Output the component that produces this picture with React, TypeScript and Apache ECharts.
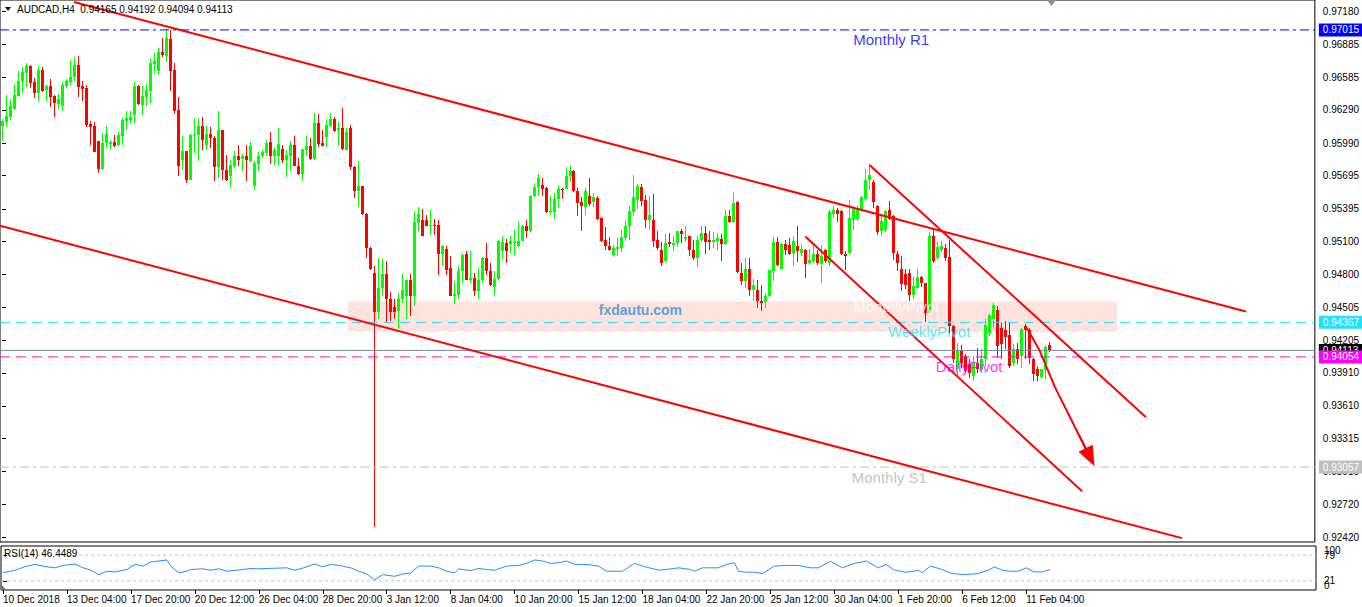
import React, { useEffect, useRef } from 'react';
import * as echarts from 'echarts';

// ---------- data ----------
const symbolName = 'AUDCAD,H4';
const timeLabels = ['10 Dec 2018', '13 Dec 04:00', '17 Dec 20:00', '20 Dec 12:00', '26 Dec 04:00', '28 Dec 20:00', '3 Jan 12:00', '8 Jan 04:00', '10 Jan 20:00', '15 Jan 12:00', '18 Jan 04:00', '22 Jan 20:00', '25 Jan 12:00', '30 Jan 04:00', '1 Feb 20:00', '6 Feb 12:00', '11 Feb 04:00'];
const barsPerLabel = 16;
const totalSlots = 329;

const priceTicks = [0.9718, 0.96885, 0.96585, 0.9629, 0.9599, 0.95695, 0.95395, 0.951, 0.948, 0.94505, 0.94205, 0.9391, 0.9361, 0.93315, 0.93015, 0.9272, 0.9242];
const priceMin = 0.92378;
const priceMax = 0.97286;

// open, high, low, close (H4 bars)
const ohlc: number[][] = [
  [0.96147, 0.96207, 0.96005, 0.96186], [0.96177, 0.96427, 0.96135, 0.96237], [0.96231, 0.96388, 0.96201, 0.96328], [0.96297, 0.96526, 0.96291, 0.96427],
  [0.96418, 0.96647, 0.96406, 0.96554], [0.96548, 0.96683, 0.96448, 0.96638], [0.96629, 0.96713, 0.96502, 0.96689], [0.96689, 0.96698, 0.96487, 0.96532],
  [0.96539, 0.96578, 0.96403, 0.96442], [0.96448, 0.96689, 0.96367, 0.96653], [0.96653, 0.96683, 0.96457, 0.96466], [0.96472, 0.96517, 0.96373, 0.96508],
  [0.96508, 0.96569, 0.96316, 0.96412], [0.96418, 0.96427, 0.96231, 0.96352], [0.96346, 0.96436, 0.96297, 0.96388], [0.96328, 0.96545, 0.96285, 0.96517],
  [0.96508, 0.96569, 0.96487, 0.96548], [0.96539, 0.96743, 0.96517, 0.96593], [0.96587, 0.96768, 0.96548, 0.96698], [0.96698, 0.96783, 0.96406, 0.96502],
  [0.96508, 0.96557, 0.96373, 0.96484], [0.96487, 0.96517, 0.96135, 0.96156], [0.96165, 0.96186, 0.95975, 0.96135], [0.96141, 0.96183, 0.95906, 0.9591],
  [0.96005, 0.9601, 0.95719, 0.95758], [0.95755, 0.96081, 0.95749, 0.9599], [0.9599, 0.96141, 0.95945, 0.96075], [0.95981, 0.9602, 0.9593, 0.95996],
  [0.95996, 0.96066, 0.95951, 0.95966], [0.95969, 0.96087, 0.9596, 0.96066], [0.96056, 0.96216, 0.95975, 0.96195], [0.96189, 0.96285, 0.96105, 0.96213],
  [0.96201, 0.96285, 0.96165, 0.96222], [0.96246, 0.96539, 0.96171, 0.96508], [0.96508, 0.96515, 0.96337, 0.9634], [0.96337, 0.96508, 0.96246, 0.96418],
  [0.96406, 0.96526, 0.96322, 0.96472], [0.96466, 0.96749, 0.96352, 0.96719], [0.96707, 0.9681, 0.96629, 0.96737], [0.96647, 0.96849, 0.96608, 0.96819],
  [0.96819, 0.96939, 0.96774, 0.96789], [0.9678, 0.97021, 0.96728, 0.96939], [0.96933, 0.97015, 0.96466, 0.96647], [0.96653, 0.96719, 0.96252, 0.96285],
  [0.96291, 0.96406, 0.95695, 0.95779], [0.95833, 0.96056, 0.95749, 0.95915], [0.95915, 0.9592, 0.95629, 0.95653], [0.95653, 0.9607, 0.95653, 0.96066],
  [0.96056, 0.96216, 0.959, 0.96066], [0.96066, 0.96207, 0.95825, 0.96147], [0.96147, 0.96231, 0.9593, 0.96014], [0.95975, 0.96141, 0.9593, 0.96075],
  [0.96075, 0.96135, 0.95945, 0.96035], [0.96035, 0.9605, 0.95644, 0.95773], [0.95773, 0.96285, 0.95674, 0.96111], [0.96105, 0.96111, 0.95659, 0.95743],
  [0.95749, 0.95885, 0.95644, 0.95659], [0.95689, 0.95833, 0.95583, 0.95794], [0.95785, 0.95915, 0.95764, 0.95876], [0.95876, 0.95975, 0.95779, 0.9584],
  [0.95846, 0.95894, 0.95734, 0.9587], [0.9587, 0.95975, 0.95644, 0.95833], [0.95825, 0.95996, 0.9582, 0.95966], [0.95598, 0.95825, 0.95562, 0.95809],
  [0.95803, 0.95906, 0.95734, 0.9587], [0.9587, 0.9593, 0.95855, 0.95906], [0.959, 0.9602, 0.9587, 0.9599], [0.95996, 0.96095, 0.95803, 0.95869],
  [0.95869, 0.95954, 0.95794, 0.95924], [0.95875, 0.96125, 0.95785, 0.95984], [0.95936, 0.95975, 0.95809, 0.95839], [0.95839, 0.9593, 0.9568, 0.95884],
  [0.95875, 0.96005, 0.95734, 0.95975], [0.95975, 0.9605, 0.95779, 0.95785], [0.95785, 0.95854, 0.95704, 0.95713], [0.95713, 0.9594, 0.95643, 0.95936],
  [0.9593, 0.9605, 0.95869, 0.9596], [0.9596, 0.96035, 0.95839, 0.95842], [0.95842, 0.96267, 0.95839, 0.96171], [0.96171, 0.96255, 0.95954, 0.95984],
  [0.9599, 0.9611, 0.9596, 0.95966], [0.96044, 0.96207, 0.95954, 0.96156], [0.96147, 0.96267, 0.96135, 0.96207], [0.96207, 0.96231, 0.96095, 0.96104],
  [0.9611, 0.96177, 0.95975, 0.96125], [0.96125, 0.96306, 0.9593, 0.95936], [0.9593, 0.96125, 0.95928, 0.96095], [0.96125, 0.96156, 0.95749, 0.95773],
  [0.95773, 0.95779, 0.95493, 0.95553], [0.95553, 0.95824, 0.95412, 0.95598], [0.95598, 0.95604, 0.95342, 0.95345], [0.95351, 0.95357, 0.9495, 0.95041],
  [0.95041, 0.95045, 0.94845, 0.94848], [0.94815, 0.94875, 0.92513, 0.94459], [0.94459, 0.9495, 0.94393, 0.94679], [0.94679, 0.94941, 0.94604, 0.94809],
  [0.94809, 0.9492, 0.94363, 0.9458], [0.9458, 0.9464, 0.94378, 0.94459], [0.94508, 0.94574, 0.94393, 0.94459], [0.94468, 0.94634, 0.94309, 0.94574],
  [0.94574, 0.94809, 0.94544, 0.94664], [0.9461, 0.94755, 0.94393, 0.94749], [0.94755, 0.94809, 0.94429, 0.94604], [0.94604, 0.95372, 0.94514, 0.95273],
  [0.95267, 0.95412, 0.95191, 0.95351], [0.95291, 0.95393, 0.95148, 0.95152], [0.95297, 0.95342, 0.95237, 0.9524], [0.9524, 0.95387, 0.95161, 0.95252],
  [0.95252, 0.95303, 0.95161, 0.95237], [0.95252, 0.95297, 0.948, 0.9499], [0.9499, 0.95071, 0.94881, 0.95062], [0.95032, 0.95056, 0.948, 0.94845],
  [0.9486, 0.94965, 0.94604, 0.9461], [0.9461, 0.9474, 0.94529, 0.94628], [0.94619, 0.94881, 0.9458, 0.9483], [0.9483, 0.94996, 0.94724, 0.94981],
  [0.9499, 0.95011, 0.94749, 0.94755], [0.94755, 0.95011, 0.94724, 0.94767], [0.9477, 0.94815, 0.94604, 0.94649], [0.94649, 0.9486, 0.94574, 0.94749],
  [0.94749, 0.94955, 0.94724, 0.9495], [0.9495, 0.95086, 0.948, 0.9483], [0.9483, 0.94905, 0.94694, 0.94709], [0.94688, 0.9483, 0.94604, 0.94761],
  [0.94761, 0.95116, 0.94755, 0.95101], [0.95011, 0.95146, 0.94941, 0.95092], [0.95086, 0.95122, 0.94905, 0.95011], [0.9508, 0.95146, 0.94996, 0.95101],
  [0.95086, 0.95207, 0.94981, 0.95092], [0.95056, 0.95282, 0.9505, 0.95101], [0.95101, 0.95252, 0.95101, 0.95243], [0.95243, 0.95297, 0.95131, 0.95191],
  [0.95192, 0.95524, 0.95183, 0.95509], [0.95509, 0.95623, 0.95503, 0.95593], [0.95593, 0.95713, 0.95515, 0.95674], [0.95614, 0.95674, 0.95515, 0.95575],
  [0.95584, 0.9559, 0.95358, 0.95364], [0.95364, 0.95515, 0.95343, 0.95373], [0.95364, 0.95539, 0.95304, 0.95484], [0.95484, 0.95614, 0.95403, 0.95575],
  [0.95578, 0.95584, 0.95484, 0.95569], [0.95575, 0.95774, 0.95575, 0.95695], [0.95689, 0.9578, 0.95635, 0.95735], [0.95741, 0.9575, 0.95545, 0.95554],
  [0.95554, 0.95584, 0.95328, 0.95448], [0.95454, 0.95503, 0.95192, 0.95418], [0.95412, 0.95584, 0.95343, 0.95554], [0.95515, 0.95674, 0.95418, 0.95442],
  [0.95454, 0.95539, 0.95412, 0.95503], [0.95494, 0.95509, 0.95298, 0.95304], [0.95313, 0.95322, 0.95093, 0.95102], [0.95111, 0.95231, 0.95026, 0.95057],
  [0.95057, 0.95141, 0.95011, 0.9502], [0.94981, 0.95063, 0.9496, 0.95042], [0.95033, 0.95132, 0.94972, 0.95051], [0.95042, 0.95207, 0.95002, 0.95141],
  [0.95132, 0.95283, 0.95102, 0.95243], [0.95243, 0.95418, 0.95117, 0.95373], [0.95364, 0.95704, 0.95334, 0.95503], [0.95472, 0.95623, 0.95394, 0.95599],
  [0.95593, 0.95623, 0.95424, 0.95463], [0.95478, 0.95524, 0.95222, 0.95292], [0.95292, 0.95515, 0.95207, 0.95343], [0.95292, 0.95533, 0.95051, 0.95102],
  [0.95117, 0.95192, 0.95026, 0.95042], [0.9502, 0.95093, 0.94876, 0.94906], [0.94921, 0.95171, 0.949, 0.95087], [0.95093, 0.95177, 0.95051, 0.95081],
  [0.95063, 0.95153, 0.95011, 0.95087], [0.95087, 0.95195, 0.95051, 0.95192], [0.95192, 0.95213, 0.95087, 0.95171], [0.95126, 0.95237, 0.95093, 0.95138],
  [0.95147, 0.9515, 0.94972, 0.9502], [0.95026, 0.95117, 0.9493, 0.94951], [0.94951, 0.95153, 0.9487, 0.95117], [0.95111, 0.95243, 0.95093, 0.95177],
  [0.95177, 0.95237, 0.9499, 0.95096], [0.95117, 0.95192, 0.95026, 0.95093], [0.95093, 0.95183, 0.95042, 0.95111], [0.95105, 0.95177, 0.95026, 0.95129],
  [0.95123, 0.95171, 0.94921, 0.95072], [0.95072, 0.95388, 0.95063, 0.95328], [0.95334, 0.95388, 0.95268, 0.95274], [0.95274, 0.95539, 0.95268, 0.95448],
  [0.95454, 0.95463, 0.94816, 0.94822], [0.94816, 0.949, 0.94701, 0.9474], [0.9474, 0.94951, 0.9468, 0.94852], [0.94852, 0.94951, 0.94605, 0.94659],
  [0.94659, 0.94761, 0.94559, 0.94701], [0.94659, 0.94749, 0.94499, 0.94559], [0.94559, 0.94701, 0.94469, 0.94544], [0.9455, 0.94629, 0.94499, 0.94605],
  [0.94605, 0.9484, 0.94599, 0.9484], [0.94831, 0.95141, 0.9474, 0.95093], [0.95093, 0.95141, 0.94876, 0.94882], [0.94852, 0.95087, 0.94846, 0.95081],
  [0.95072, 0.95117, 0.94981, 0.9502], [0.95063, 0.95132, 0.94981, 0.9499], [0.94996, 0.95147, 0.94876, 0.95102], [0.95057, 0.95243, 0.94912, 0.95011],
  [0.94996, 0.95063, 0.94966, 0.95033], [0.95026, 0.95033, 0.9477, 0.94891], [0.949, 0.95033, 0.94891, 0.9493], [0.94921, 0.95072, 0.94906, 0.9499],
  [0.9499, 0.9502, 0.94882, 0.949], [0.94891, 0.95063, 0.94725, 0.94966], [0.95026, 0.95033, 0.94906, 0.94921], [0.94906, 0.95388, 0.94876, 0.95364],
  [0.95352, 0.95418, 0.95313, 0.95382], [0.95388, 0.95403, 0.95274, 0.95352], [0.95373, 0.9538, 0.94981, 0.94985], [0.9499, 0.95011, 0.9484, 0.94972],
  [0.94996, 0.95478, 0.94981, 0.95313], [0.95298, 0.95418, 0.95207, 0.95394], [0.95304, 0.95418, 0.95283, 0.95394], [0.95388, 0.95515, 0.95364, 0.95503],
  [0.95484, 0.95756, 0.95463, 0.95653], [0.95653, 0.95795, 0.95569, 0.957], [0.9564, 0.9566, 0.95403, 0.95454], [0.95418, 0.95433, 0.95162, 0.95183],
  [0.95192, 0.95334, 0.95153, 0.95283], [0.95207, 0.95388, 0.95183, 0.95373], [0.95382, 0.95463, 0.95298, 0.953], [0.95334, 0.95343, 0.94936, 0.94996],
  [0.9499, 0.95011, 0.94831, 0.94906], [0.94852, 0.94966, 0.9465, 0.9471], [0.94801, 0.94852, 0.94665, 0.94701], [0.9481, 0.94846, 0.94559, 0.94611],
  [0.94611, 0.94785, 0.94581, 0.94695], [0.9468, 0.94846, 0.94665, 0.94779], [0.94779, 0.94791, 0.94689, 0.94719], [0.94719, 0.94725, 0.9437, 0.94454],
  [0.9446, 0.95183, 0.94454, 0.95153], [0.95153, 0.95222, 0.949, 0.94921], [0.94951, 0.95093, 0.94936, 0.95051], [0.95026, 0.95102, 0.95002, 0.95057],
  [0.95042, 0.95072, 0.94921, 0.94951], [0.9496, 0.95117, 0.94273, 0.94333], [0.94333, 0.9434, 0.94002, 0.94032], [0.93948, 0.94183, 0.93882, 0.94117],
  [0.94117, 0.94159, 0.93957, 0.94002], [0.94062, 0.94077, 0.93912, 0.93927], [0.93987, 0.94032, 0.93866, 0.93912], [0.93882, 0.94062, 0.93836, 0.93996],
  [0.93996, 0.94138, 0.93912, 0.93942], [0.93936, 0.94123, 0.93912, 0.94038], [0.94038, 0.94394, 0.93972, 0.9434], [0.94273, 0.94439, 0.94243, 0.9443],
  [0.94394, 0.94538, 0.94303, 0.9452], [0.94478, 0.94514, 0.94047, 0.94153], [0.94318, 0.94364, 0.94032, 0.94168], [0.94297, 0.94379, 0.94123, 0.94237],
  [0.94249, 0.94358, 0.93957, 0.93972], [0.94002, 0.94168, 0.93972, 0.94123], [0.94123, 0.94183, 0.93987, 0.94038], [0.94062, 0.94318, 0.93957, 0.94309],
  [0.94333, 0.94349, 0.94038, 0.94297], [0.94297, 0.94318, 0.93987, 0.94047], [0.94032, 0.94047, 0.93836, 0.93897], [0.93948, 0.93972, 0.93836, 0.93882],
  [0.93876, 0.93948, 0.93851, 0.93948], [0.93936, 0.9416, 0.93851, 0.94147], [0.94165, 0.94192, 0.94094, 0.94113],
];

// RSI(14) read at turning points: [bar index, value]
const rsiPoints: number[][] = [
  [0, 38.8], [3, 45.0], [6, 54.3], [8, 58.2], [11, 52.7], [13, 50.4], [15, 55.8], [18, 59.0], [20, 50.4], [22, 45.0], [24, 34.9], [26, 42.7], [28, 41.1],
  [31, 46.6], [33, 58.2], [35, 54.3], [37, 63.6], [41, 68.3], [42, 54.3], [44, 38.8], [46, 42.7], [47, 46.6], [50, 48.1], [52, 45.0], [54, 48.1], [56, 42.7],
  [60, 46.6], [62, 48.9], [64, 48.1], [66, 48.9], [69, 49.7], [71, 50.4], [73, 45.0], [75, 49.7], [78, 59.0], [80, 52.7], [82, 58.2], [84, 55.8], [87, 50.4],
  [89, 42.7], [91, 36.5], [93, 23.3], [95, 34.9], [98, 31.1], [100, 36.5], [102, 38.8], [104, 54.3], [107, 54.3], [109, 50.4], [111, 42.7], [113, 38.8],
  [114, 48.1], [117, 44.2], [119, 48.9], [121, 46.6], [123, 45.0], [126, 54.3], [129, 55.8], [131, 60.5], [133, 68.3], [135, 65.9], [137, 60.5], [139, 62.1],
  [141, 65.9], [143, 58.2], [146, 58.2], [149, 54.3], [151, 42.7], [155, 42.7], [158, 60.5], [160, 54.3], [164, 45.0], [166, 46.6], [169, 50.4], [172, 46.6],
  [173, 42.7], [175, 50.4], [179, 50.4], [181, 58.2], [183, 62.1], [184, 42.7], [186, 40.4], [188, 40.4], [190, 37.3], [193, 54.3], [196, 55.8], [199, 55.8],
  [202, 50.4], [204, 50.4], [207, 65.2], [210, 50.4], [213, 60.5], [216, 65.9], [219, 50.4], [221, 58.2], [223, 45.0], [226, 40.4], [228, 42.7], [229, 45.0],
  [230, 38.8], [232, 54.3], [235, 46.6], [237, 38.8], [240, 34.9], [244, 37.3], [247, 46.6], [248, 52.7], [250, 45.0], [252, 42.7], [254, 42.7], [256, 50.4],
  [258, 41.1], [260, 41.1], [262, 46.4489],
];
const rsiLevels = [79, 21];
const rsiLevelTicks = [79, 21];
const rsiRangeTicks = [100, 0];

// horizontal pivot levels
const levelNames = ['Monthly R1', 'WeeklyPivot', 'Bid', 'DailyPivot', 'Monthly S1'];
const levelValues = [0.97015, 0.94367, 0.94113, 0.94054, 0.93057];

// Monthly pivot zone (bar index range, price range)
const zoneBars = [86.5, 279];
const zonePrices = [0.94556, 0.94285];

// hand-drawn trend lines: [bar index, price] pairs
const trendLines: number[][][] = [
  [[18, 0.97268], [311.25, 0.94466]],
  [[-0.5, 0.95243], [295.25, 0.92413]],
  [[201, 0.95144], [270.25, 0.92838]],
  [[217, 0.95794], [286.25, 0.93507]],
];
const arrowPath: number[][] = [[256.5, 0.94312], [259.5, 0.94122], [263.5, 0.93778], [272.25, 0.93146]];
const arrowHeadFrom = [269.5, 0.93345];

// text annotations: [bar index, price]
const noteTexts = ['Monthly R1', 'MonthlyPivot', 'WeeklyPivot', 'DailyPivot', 'Monthly S1', 'fxdautu.com'];
const notePoints: number[][] = [[222.5, 0.96924], [223.75, 0.94511], [232, 0.94285], [242, 0.93969], [222, 0.92965], [159.75, 0.94475]];

// ---------- styles ----------
const FONT = '"Liberation Sans", Arial, sans-serif';
const UP = '#00ff00';
const DOWN = '#ff0000';
const levelStyles = [
  { color: '#0000ff', dash: [9, 4, 3, 4], tag: '#0000ff' },
  { color: '#1ee3ff', dash: [10, 6], tag: '#1ee3ff' },
  { color: '#778899', dash: 'solid', tag: '#000000' },
  { color: '#ff00ff', dash: [10, 6], tag: '#ff00ff' },
  { color: '#c0c0c0', dash: [9, 4, 3, 4], tag: '#c0c0c0' },
];
const noteStyles = [
  { color: '#0000ff', size: 15, weight: 'normal' },
  { color: '#ffffff', size: 15, weight: 'normal' },
  { color: '#1ee3ff', size: 15, weight: 'normal' },
  { color: '#ff00ff', size: 15, weight: 'normal' },
  { color: '#b4b4b4', size: 15, weight: 'normal' },
  { color: '#2b8fd6', size: 14, weight: 'bold' },
];

export default function App() {
  const ref = useRef<HTMLDivElement>(null);

  useEffect(() => {
    document.body.style.margin = '0';
    const chart = echarts.init(ref.current as HTMLDivElement, undefined, { renderer: 'svg' });

    const cats: string[] = [];
    for (let i = 0; i < totalSlots; i++) {
      const k = i / barsPerLabel;
      cats.push(i % barsPerLabel === 0 && k < timeLabels.length ? timeLabels[k] : '');
    }
    const showLabel = (i: number) => i % barsPerLabel === 0 && i / barsPerLabel < timeLabels.length;
    const last = ohlc[ohlc.length - 1];
    const rsiLast = rsiPoints[rsiPoints.length - 1][1];
    const xEnd = totalSlots - 0.5;

    const series: any[] = [];

    // pink zone
    series.push({
      type: 'line', xAxisIndex: 1, yAxisIndex: 0, data: [], z: 1, silent: true,
      markArea: {
        silent: true,
        itemStyle: { color: '#ffe3df' },
        data: [[{ coord: [zoneBars[0], zonePrices[0]] }, { coord: [zoneBars[1], zonePrices[1]] }]],
      },
    });

    // candles (custom drawn for crisp MT4 look)
    series.push({
      type: 'custom', xAxisIndex: 1, yAxisIndex: 0, z: 3, silent: true,
      data: ohlc.map((d, i) => [i, d[0], d[1], d[2], d[3]]),
      encode: { x: 0, y: [1, 2, 3, 4] },
      renderItem: (params: any, api: any) => {
        const i = api.value(0);
        const o = api.value(1), h = api.value(2), l = api.value(3), c = api.value(4);
        const pO = api.coord([i, o]);
        const pC = api.coord([i, c]);
        const pH = api.coord([i, h]);
        const pL = api.coord([i, l]);
        const cx = Math.round(pO[0]);
        const color = c >= o ? UP : DOWN;
        const top = Math.round(Math.min(pO[1], pC[1]));
        const bot = Math.max(Math.round(Math.max(pO[1], pC[1])), top + 1);
        const wt = Math.round(pH[1]);
        const wb = Math.max(Math.round(pL[1]), wt + 1);
        return {
          type: 'group',
          children: [
            { type: 'rect', shape: { x: cx, y: wt, width: 1, height: wb - wt }, style: { fill: color } },
            { type: 'rect', shape: { x: cx - 1, y: top, width: 3, height: bot - top }, style: { fill: color } },
          ],
        };
      },
    });

    // level lines with price tags
    levelValues.forEach((v, i) => {
      series.push({
        type: 'line', xAxisIndex: 1, yAxisIndex: 0, z: 4, silent: true, name: levelNames[i],
        data: [[-0.5, v], [xEnd, v]],
        showSymbol: false, symbol: 'none',
        lineStyle: { color: levelStyles[i].color, type: levelStyles[i].dash as any, width: 1 },
        endLabel: {
          show: true, distance: 4, formatter: () => v.toFixed(5),
          color: '#ffffff', backgroundColor: levelStyles[i].tag, padding: [2, 6, 1, 4],
          fontSize: 10, fontFamily: FONT,
        },
      });
    });

    // trend lines
    trendLines.forEach((ln) => {
      series.push({
        type: 'line', xAxisIndex: 1, yAxisIndex: 0, data: ln, z: 5, silent: true,
        showSymbol: false, symbol: 'none', lineStyle: { color: '#ff0000', width: 2 },
      });
    });

    // arrow
    series.push({
      type: 'line', xAxisIndex: 1, yAxisIndex: 0, data: arrowPath, z: 5, silent: true,
      showSymbol: false, symbol: 'none', lineStyle: { color: '#ff0000', width: 2 },
      markLine: {
        silent: true, symbol: ['none', 'triangle'], symbolSize: [16, 20],
        lineStyle: { color: '#ff0000', width: 2, type: 'solid' },
        label: { show: false },
        data: [[{ coord: arrowHeadFrom }, { coord: arrowPath[arrowPath.length - 1] }]],
      },
    });

    // annotations
    series.push({
      type: 'scatter', xAxisIndex: 1, yAxisIndex: 0, z: 6, silent: true, symbolSize: 0,
      data: notePoints.map((p, i) => ({
        value: p, name: noteTexts[i],
        label: {
          show: true, position: 'inside', formatter: noteTexts[i],
          color: noteStyles[i].color, fontSize: noteStyles[i].size, fontWeight: noteStyles[i].weight,
          fontFamily: FONT,
        },
      })),
    });

    // RSI levels
    rsiLevels.forEach((v) => {
      series.push({
        type: 'line', xAxisIndex: 3, yAxisIndex: 1, data: [[-0.5, v], [xEnd, v]], z: 3, silent: true,
        showSymbol: false, symbol: 'none', lineStyle: { color: '#c0c0c0', type: [3, 3], width: 1 },
      });
    });
    // RSI line
    series.push({
      type: 'line', xAxisIndex: 3, yAxisIndex: 1, data: rsiPoints, z: 4, silent: true,
      showSymbol: false, symbol: 'none', lineStyle: { color: '#1e90ff', width: 1 },
    });

    const option: any = {
      animation: false,
      backgroundColor: '#ffffff',
      grid: [
        { left: 0, top: 0, width: 1316, height: 542, show: true, borderColor: '#000', borderWidth: 1 },
        { left: 0, top: 546, width: 1316, height: 44, show: true, borderColor: '#000', borderWidth: 1 },
      ],
      xAxis: [
        { type: 'category', gridIndex: 0, data: cats, boundaryGap: true, show: false },
        { type: 'value', gridIndex: 0, min: -0.5, max: xEnd, show: false },
        {
          type: 'category', gridIndex: 1, data: cats, boundaryGap: true,
          axisLine: { show: false }, splitLine: { show: false },
          axisTick: { show: true, alignWithLabel: true, interval: showLabel, length: 4, lineStyle: { color: '#000' } },
          axisLabel: { interval: showLabel, align: 'left', margin: 4, fontSize: 10, color: '#000', fontFamily: FONT },
        },
        { type: 'value', gridIndex: 1, min: -0.5, max: xEnd, show: false },
      ],
      yAxis: [
        {
          type: 'value', gridIndex: 0, position: 'right', min: priceMin, max: priceMax,
          splitLine: { show: false }, axisLine: { show: false },
          axisTick: { show: true, customValues: priceTicks, length: 4, lineStyle: { color: '#000' } },
          axisLabel: { customValues: priceTicks, formatter: (v: number) => v.toFixed(5), margin: 8, fontSize: 10, color: '#000', fontFamily: FONT },
        },
        {
          type: 'value', gridIndex: 1, position: 'right', min: 0, max: 100,
          splitLine: { show: false }, axisLine: { show: false },
          axisTick: { show: true, customValues: rsiLevelTicks, length: 4, lineStyle: { color: '#000' } },
          axisLabel: { customValues: rsiLevelTicks, margin: 8, fontSize: 10, color: '#000', fontFamily: FONT },
        },
        {
          type: 'value', gridIndex: 1, position: 'right', min: -12, max: 112,
          splitLine: { show: false }, axisLine: { show: false }, axisTick: { show: false },
          axisLabel: { customValues: rsiRangeTicks, showMinLabel: true, showMaxLabel: true, margin: 8, fontSize: 10, color: '#000', fontFamily: FONT },
        },
      ],
      graphic: [
        { type: 'polygon', shape: { points: [[5, 7], [11, 7], [8, 11]] }, style: { fill: '#000' }, z: 10 },
        {
          type: 'text', left: 17, top: 4, z: 10,
          style: { text: `${symbolName}  ${last.map((v) => v.toFixed(5)).join(' ')}`, font: `10px ${FONT}`, fill: '#000' },
        },
        { type: 'polygon', shape: { points: [[1047, 0], [1056, 0], [1051.5, 6]] }, style: { fill: '#909090' }, z: 10 },
        {
          type: 'text', left: 4, top: 548, z: 10,
          style: { text: `RSI(14) ${rsiLast.toFixed(4)}`, font: `10px ${FONT}`, fill: '#000' },
        },
        { type: 'polygon', shape: { points: [[1, 584], [1, 590], [6, 590]] }, style: { fill: '#707070' }, z: 10 },
      ],
      series,
    };

    chart.setOption(option);
    return () => chart.dispose();
  }, []);

  return <div ref={ref} style={{ width: 1362, height: 607 }} />;
}
